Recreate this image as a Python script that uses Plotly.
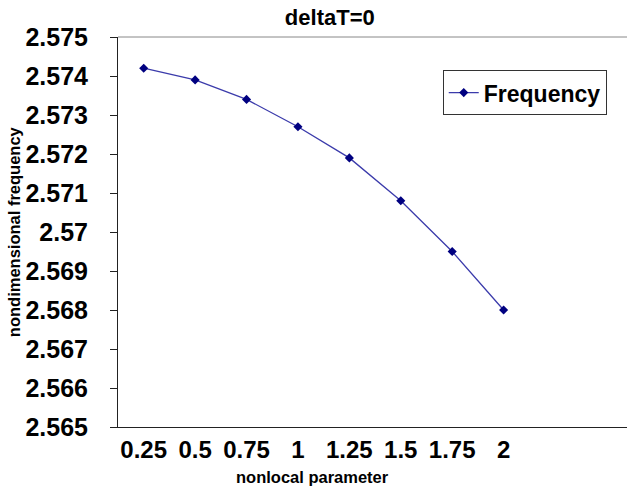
import plotly.graph_objects as go

categories = ["0.25", "0.5", "0.75", "1", "1.25", "1.5", "1.75", "2"]
frequency = [2.5742, 2.5739, 2.5734, 2.5727, 2.5719, 2.5708, 2.5695, 2.5680]
y_ticks = [2.565, 2.566, 2.567, 2.568, 2.569, 2.57, 2.571, 2.572, 2.573, 2.574, 2.575]
y_tick_labels = ["2.565", "2.566", "2.567", "2.568", "2.569", "2.57", "2.571", "2.572", "2.573", "2.574", "2.575"]

FONT = "Liberation Sans, Arial, sans-serif"

fig = go.Figure()
fig.add_trace(go.Scatter(
    x=list(range(len(categories))), y=frequency, mode="lines+markers", name="<b>Frequency</b>",
    line=dict(color="#3b3bab", width=1.3),
    marker=dict(symbol="diamond", size=7, color="#000080"),
))

fig.update_layout(
    width=627, height=488,
    margin=dict(l=118, r=0, t=37, b=61),
    paper_bgcolor="white", plot_bgcolor="white",
    font=dict(family=FONT, color="black"),
    showlegend=True,
    title=dict(text="<b>deltaT=0</b>", x=0.526, xref="container", xanchor="center",
               y=1, yref="paper", yanchor="bottom", pad=dict(b=12),
               font=dict(size=22, family=FONT, color="black")),
    legend=dict(x=0.638, y=0.915, xanchor="left", yanchor="top",
                bordercolor="#333333", borderwidth=1, bgcolor="white",
                font=dict(size=23, family=FONT, color="black"),
                itemwidth=30, tracegroupgap=0),
    xaxis=dict(
        range=[-0.5, 9.4], tickmode="array",
        tickvals=list(range(len(categories))), ticktext=["<b>%s</b>" % c for c in categories],
        tickfont=dict(size=24, family=FONT, color="black"),
        showline=True, linecolor="#222222", linewidth=1, ticks="", showgrid=False,
        zeroline=False, ticklabelstandoff=1,
    ),
    yaxis=dict(
        range=[2.565, 2.575], tickmode="array", tickvals=y_ticks,
        ticktext=["<b>%s</b>" % t for t in y_tick_labels],
        tickfont=dict(size=25, family=FONT, color="black"),
        showline=True, linecolor="#222222", linewidth=1, ticks="outside",
        ticklen=7, tickcolor="#222222", showgrid=False, zeroline=False,
        ticklabelstandoff=17,
    ),
)

fig.add_shape(type="line", xref="paper", yref="paper", x0=0, x1=1, y0=1, y1=1,
              line=dict(color="#888888", width=1))

fig.add_annotation(text="<b>nondimensional frequency</b>", xref="paper", yref="paper",
                   x=-0.204, y=0.5, textangle=-90, showarrow=False,
                   xanchor="center", yanchor="middle",
                   font=dict(size=16.5, family=FONT, color="black"))
fig.add_annotation(text="<b>nonlocal parameter</b>", xref="paper", yref="paper",
                   x=0.383, y=-0.128, showarrow=False, xanchor="center", yanchor="middle",
                   font=dict(size=16.5, family=FONT, color="black"))

fig.write_html("out.html", config={"displayModeBar": False},
               post_script="document.body.style.margin='0';document.body.style.overflow='hidden';")
